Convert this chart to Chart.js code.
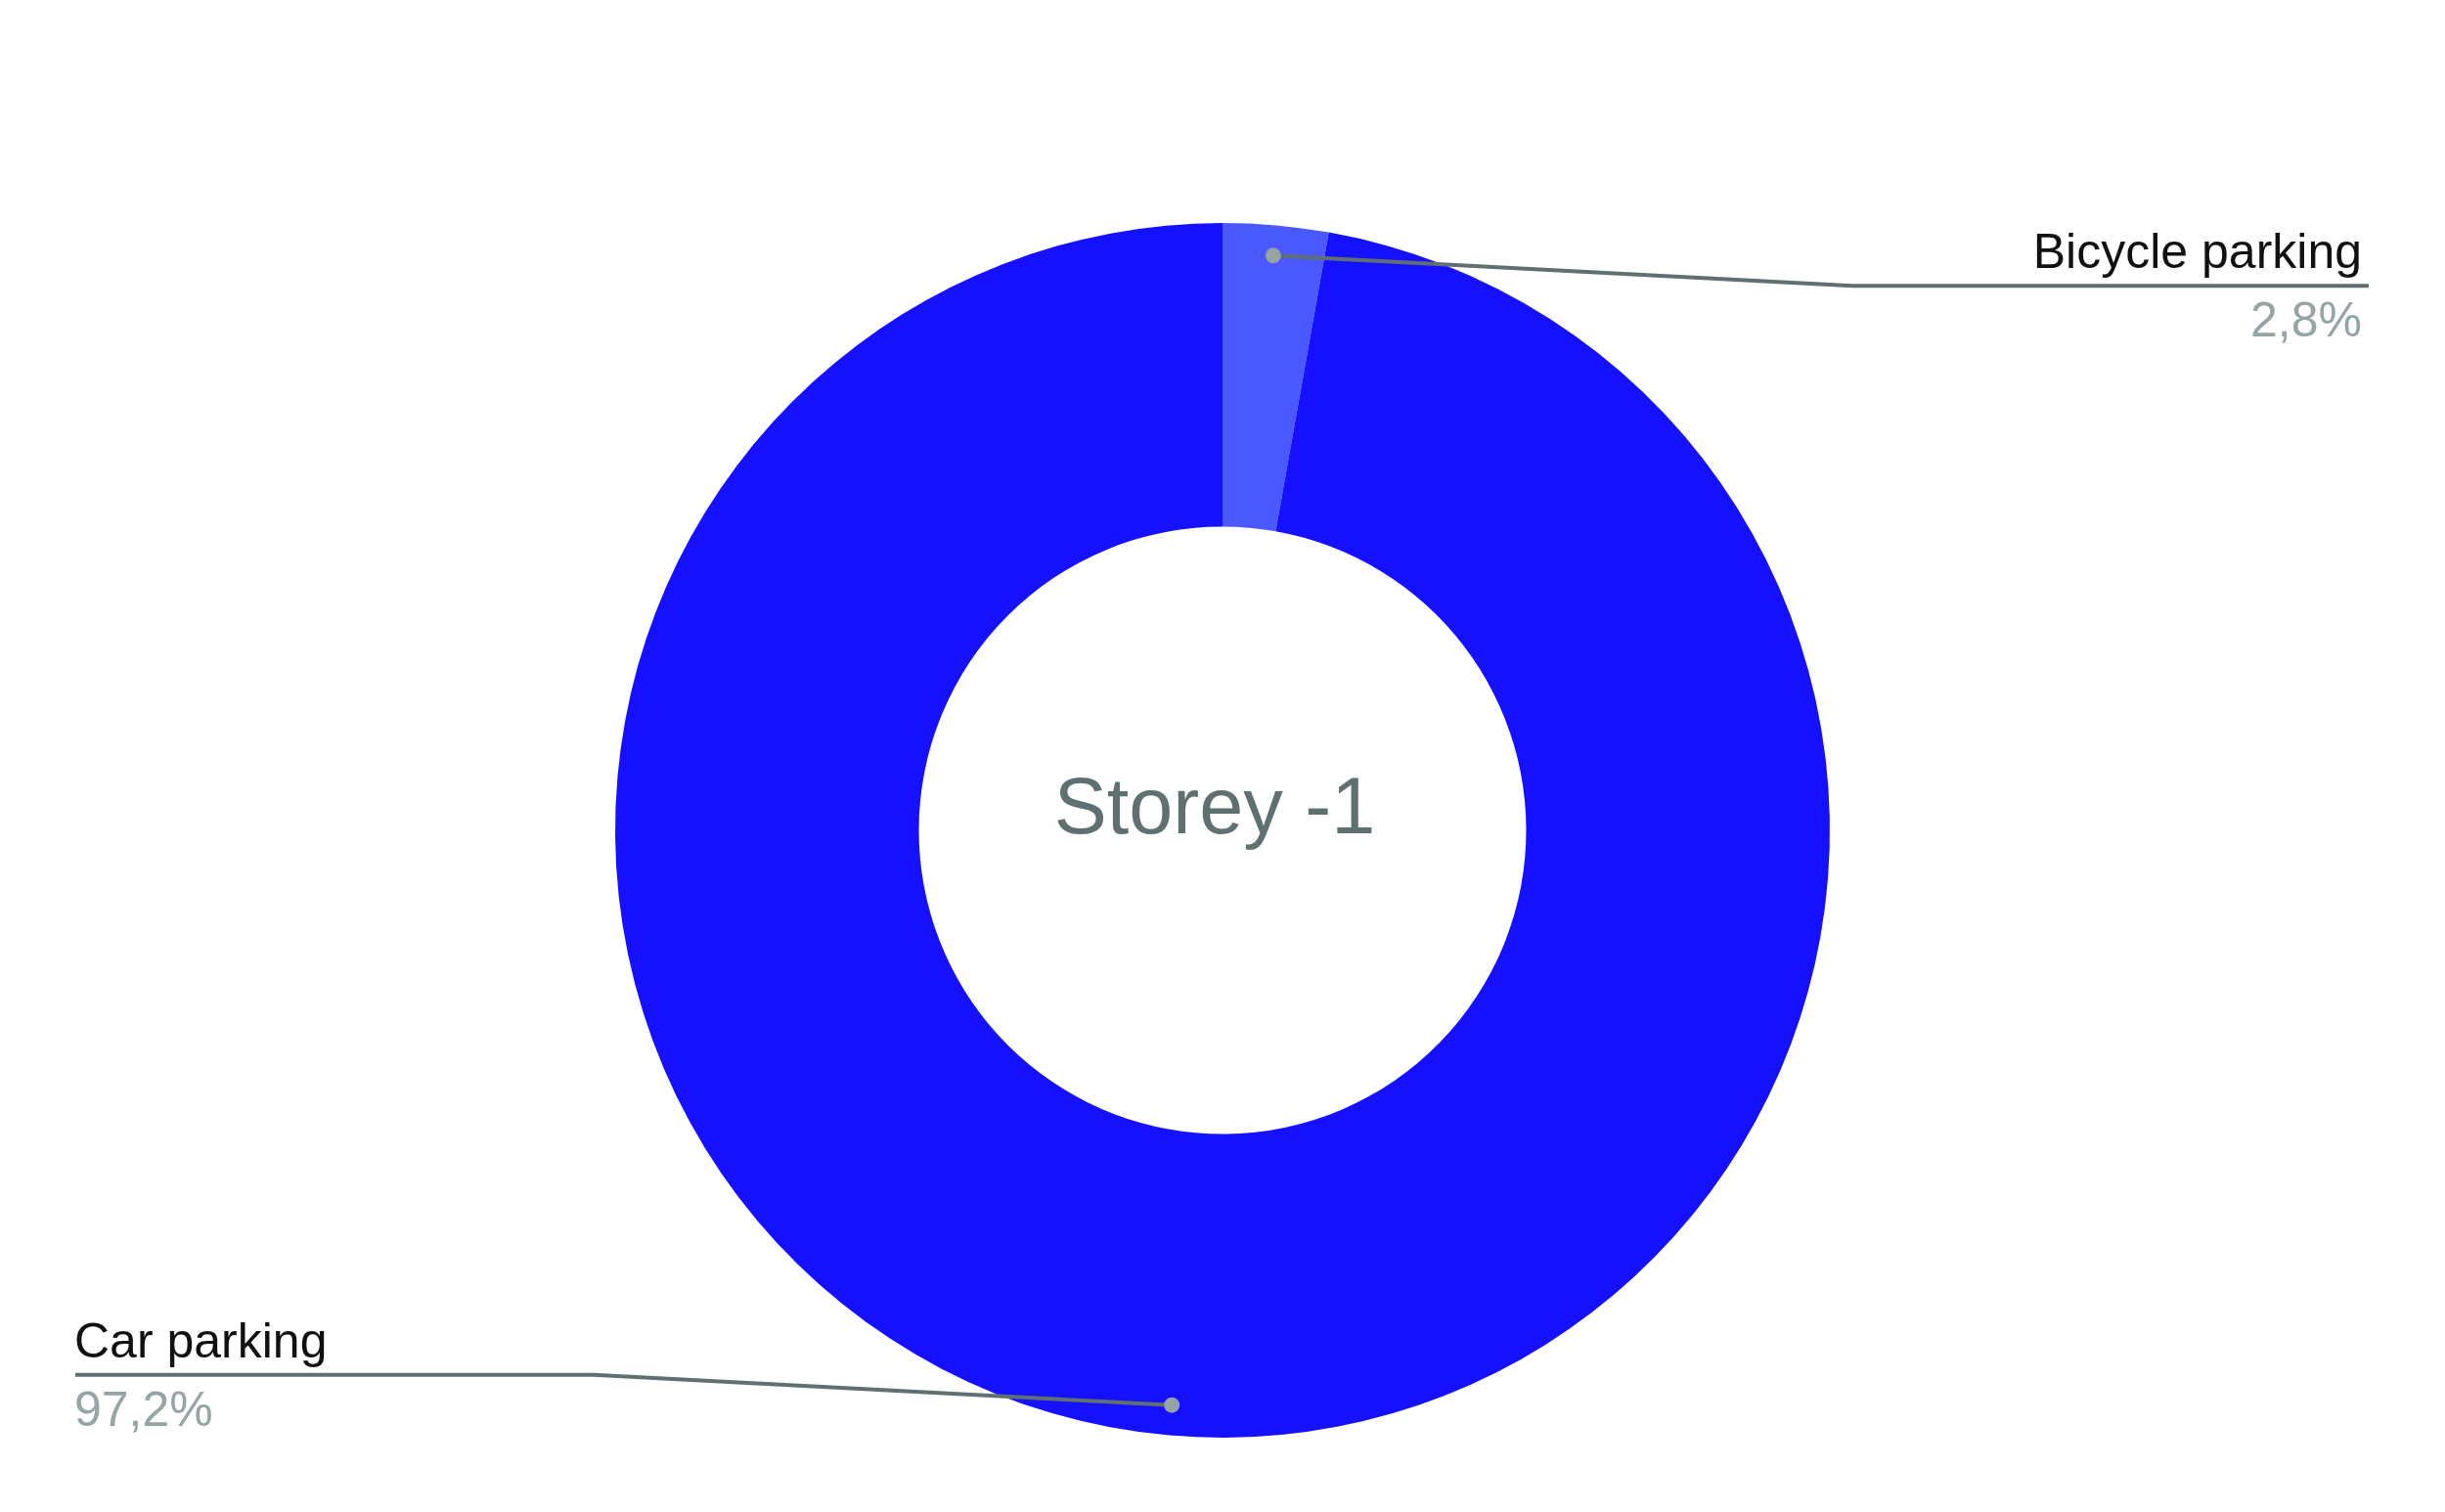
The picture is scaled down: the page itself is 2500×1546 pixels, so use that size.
<!DOCTYPE html>
<html>
<head>
<meta charset="utf-8">
<script src="https://cdn.jsdelivr.net/npm/chart.js@4/dist/chart.umd.min.js"></script>
<style>
html,body{margin:0;padding:0;background:#fff;}
#wrap{width:2500px;height:1546px;position:relative;}
</style>
</head>
<body>
<div id="wrap"><canvas id="c" width="2500" height="1546"></canvas></div>
<script>
const categories = ["Bicycle parking", "Car parking"];
const shares = [2.8, 97.2];
const percentLabels = ["2,8%", "97,2%"];
const sliceColors = ["#4a58ff", "#1510ff"];
const centerTitle = "Storey -1";

const FONT = '"Liberation Sans", Arial, Helvetica, sans-serif';

const calloutPlugin = {
  id: 'callouts',
  afterDraw(chart) {
    const ctx = chart.ctx;
    const meta = chart.getDatasetMeta(0);
    const area = chart.chartArea;
    const cx = (area.left + area.right) / 2;
    const cy = (area.top + area.bottom) / 2;
    ctx.save();
    ctx.fillStyle = '#5f7070';
    ctx.font = '81px ' + FONT;
    ctx.textAlign = 'center';
    ctx.textBaseline = 'alphabetic';
    ctx.fillText(centerTitle, cx - 8, cy + 3);

    meta.data.forEach((arc, i) => {
      const p = arc.getProps(['startAngle', 'endAngle', 'outerRadius', 'x', 'y'], true);
      const mid = (p.startAngle + p.endAngle) / 2;
      const r = p.outerRadius * 0.95;
      const dx = p.x + Math.cos(mid) * r;
      const dy = p.y + Math.sin(mid) * r;
      const right = Math.cos(mid) >= 0;
      const ex = p.x + (right ? 644 : -643);
      const ey = dy + (right ? 31 : -31);
      const endX = right ? 2422 : 77;
      ctx.strokeStyle = '#607070';
      ctx.lineWidth = 4;
      ctx.lineJoin = 'round';
      ctx.beginPath();
      ctx.moveTo(dx, dy);
      ctx.lineTo(ex, ey);
      ctx.lineTo(endX, ey);
      ctx.stroke();
      ctx.fillStyle = '#95a3a3';
      ctx.beginPath();
      ctx.arc(dx, dy, 8, 0, Math.PI * 2);
      ctx.fill();
      ctx.font = '50px ' + FONT;
      ctx.textAlign = right ? 'right' : 'left';
      const tx = right ? 2415 : 76;
      ctx.fillStyle = '#111111';
      ctx.fillText(categories[i], tx, ey - 18);
      ctx.fillStyle = '#95a5a5';
      ctx.fillText(percentLabels[i], tx, ey + 52);
    });
    ctx.restore();
  }
};

new Chart(document.getElementById('c'), {
  type: 'doughnut',
  data: {
    labels: categories,
    datasets: [{
      data: shares,
      backgroundColor: sliceColors,
      borderWidth: 0,
      hoverOffset: 0
    }]
  },
  options: {
    responsive: false,
    animation: false,
    cutout: '50%',
    layout: { padding: { top: 228, bottom: 76, left: 0, right: 0 } },
    plugins: { legend: { display: false }, tooltip: { enabled: false } }
  },
  plugins: [calloutPlugin]
});
</script>
</body>
</html>
